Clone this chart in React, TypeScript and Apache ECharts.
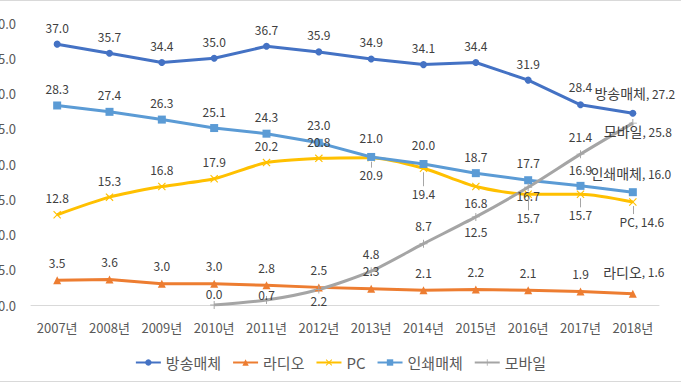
import React, { useEffect, useRef } from "react";
import * as echarts from "echarts";

const YEARS = ["2007년", "2008년", "2009년", "2010년", "2011년", "2012년", "2013년", "2014년", "2015년", "2016년", "2017년", "2018년"];
const BROADCAST = [37.0, 35.7, 34.4, 35.0, 36.7, 35.9, 34.9, 34.1, 34.4, 31.9, 28.4, 27.2];
const RADIO = [3.5, 3.6, 3.0, 3.0, 2.8, 2.5, 2.3, 2.1, 2.2, 2.1, 1.9, 1.6];
const PC = [12.8, 15.3, 16.8, 17.9, 20.2, 20.8, 20.9, 19.4, 16.8, 15.7, 15.7, 14.6];
const PRINT = [28.3, 27.4, 26.3, 25.1, 24.3, 23.0, 21.0, 20.0, 18.7, 17.7, 16.9, 16.0];
const MOBILE: (number | null)[] = [null, null, null, 0.0, 0.7, 2.2, 4.8, 8.7, 12.5, 16.7, 21.4, 25.8];
const SERIES_NAMES = ["방송매체", "라디오", "PC", "인쇄매체", "모바일"];

// label offsets [dx, dy] in pixels relative to each point (layout only)
const OFF_BROADCAST = [[0, -17], [0, -17], [0, -17], [0, -17], [0, -17], [0, -17], [0, -17], [0, -17], [0, -17], [0, -17], [0, -18], [2, -20]];
const OFF_RADIO = [[0, -18], [0, -18], [0, -18], [0, -18], [0, -18], [0, -18], [0, -18], [0, -18], [0, -18], [0, -18], [0, -18], [1, -22]];
const OFF_PC = [[0, -17], [0, -17], [0, -17], [0, -17], [0, -17], [0, -17], [0, 17], [0, 25], [0, 16], [0, 23], [0, 20], [9, 19]];
const OFF_PRINT = [[0, -17], [0, -17], [0, -17], [0, -17], [0, -17], [0, -18], [0, -19], [0, -20], [0, -17], [0, -18], [0, -16], [-2, -19]];
const OFF_MOBILE = [[0, 0], [0, 0], [0, 0], [0, -12], [0, -6], [0, 11], [0, -18], [0, -18], [0, 15], [0, 8], [0, -18], [5, 8]];
const PC_LEADER = [false, false, false, false, false, false, true, true, false, true, true, true];

const X_SYMBOL = "path://M0,1L1,0L5,4L9,0L10,1L6,5L10,9L9,10L5,6L1,10L0,9L4,5Z";
const PLUS_SYMBOL = "path://M4.4,0H5.6V4.4H10V5.6H5.6V10H4.4V5.6H0V4.4H4.4Z";

const PX_PER_UNIT = 282 / 40;

export default function App() {
  const ref = useRef<HTMLDivElement>(null);
  useEffect(() => {
    document.body.style.margin = "0";
    const chart = echarts.init(ref.current!, null, { renderer: "svg" });
    const font = "'Noto Sans CJK KR', 'Noto Sans', sans-serif";
    const labelBase = { show: true, position: "inside", fontSize: 12, color: "#404040", fontFamily: font };
    const rich = {
      n: { fontSize: 14, color: "#404040", fontFamily: font },
      d: { fontSize: 12, color: "#404040", fontFamily: font },
    };

    const build = (
      name: string,
      values: (number | null)[],
      offs: number[][],
      color: string,
      symbol: string,
      symbolSize: number,
      smooth: boolean | number,
      leaders?: boolean[]
    ) => ({
      name,
      type: "line",
      smooth,
      symbol,
      symbolSize,
      connectNulls: false,
      lineStyle: { color, width: 3 },
      itemStyle: { color, borderColor: color, borderWidth: 0 },
      label: { ...labelBase },
      data: values.map((v, i) => ({
        value: v,
        label: {
          ...labelBase,
          offset: offs[i],
          rich,
          formatter:
            i === values.length - 1
              ? name === "PC"
                ? `${name}, ${Number(v).toFixed(1)}`
                : `{n|${name}}{d|, ${Number(v).toFixed(1)}}`
              : (p: any) => Number(p.value).toFixed(1),
        },
      })),
      markLine: leaders
        ? {
            silent: true,
            symbol: "none",
            label: { show: false },
            lineStyle: { color: "#A6A6A6", width: 1, type: "solid" },
            data: values
              .map((v, i) => ({ v: v as number, i }))
              .filter((d) => leaders[d.i])
              .map((d) => [
                { coord: [d.i, d.v - 4 / PX_PER_UNIT] },
                { coord: [d.i, d.v - (offs[d.i][1] - 7) / PX_PER_UNIT] },
              ]),
          }
        : undefined,
      z: 2,
    });

    chart.setOption({
      animation: false,
      textStyle: { fontFamily: font },
      grid: { left: 31, right: 22, top: 23, bottom: 78, containLabel: false, outerBoundsMode: "none" },
      xAxis: {
        type: "category",
        data: YEARS,
        boundaryGap: true,
        axisLine: { lineStyle: { color: "#D9D9D9", width: 1 } },
        axisTick: { show: false },
        axisLabel: { color: "#595959", fontSize: 13, margin: 16, interval: 0, fontFamily: font },
      },
      yAxis: {
        type: "value",
        min: 0,
        max: 40,
        interval: 5,
        splitLine: { show: false },
        axisLine: { show: false },
        axisTick: { show: false },
        axisLabel: { color: "#595959", fontSize: 13, margin: 15, fontFamily: font, formatter: (v: number) => v.toFixed(1) },
      },
      legend: {
        bottom: 8,
        left: "center",
        itemWidth: 25,
        itemHeight: 8,
        itemGap: 11,
        textStyle: { color: "#595959", fontSize: 15, fontFamily: font },
        data: SERIES_NAMES,
      },
      graphic: [
        { type: "line", shape: { x1: 0, y1: 0.5, x2: 681, y2: 0.5 }, style: { stroke: "#D9D9D9", lineWidth: 1 } },
        { type: "line", shape: { x1: 0, y1: 381.5, x2: 681, y2: 381.5 }, style: { stroke: "#D9D9D9", lineWidth: 1 } },
      ],
      series: [
        build(SERIES_NAMES[0], BROADCAST, OFF_BROADCAST, "#4472C4", "circle", 7, false),
        build(SERIES_NAMES[1], RADIO, OFF_RADIO, "#ED7D31", "triangle", 8, false),
        build(SERIES_NAMES[2], PC, OFF_PC, "#FFC000", X_SYMBOL, 8, 0.25, PC_LEADER),
        build(SERIES_NAMES[3], PRINT, OFF_PRINT, "#5B9BD5", "rect", 8, false),
        build(SERIES_NAMES[4], MOBILE, OFF_MOBILE, "#A5A5A5", PLUS_SYMBOL, 8, 0.25),
      ],
    });
    return () => chart.dispose();
  }, []);
  return <div ref={ref} style={{ position: "absolute", left: 0, top: 0, width: 681, height: 383, background: "#fff" }} />;
}
